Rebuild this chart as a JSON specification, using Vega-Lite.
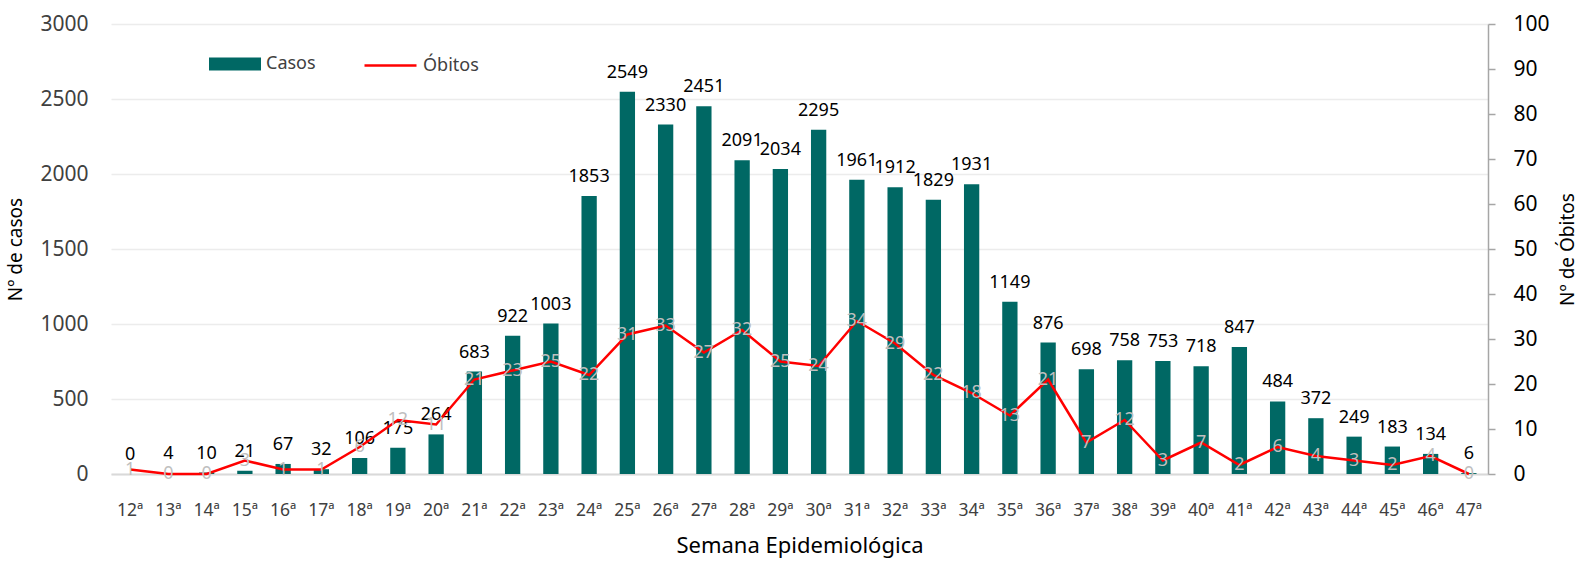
{
  "$schema": "https://vega.github.io/schema/vega-lite/v6.json",
  "autosize": {"type": "none"},
  "width": 1377,
  "height": 450,
  "padding": {"left": 111, "top": 24, "right": 96, "bottom": 87},
  "background": "white",
  "config": {
    "font": "Noto Sans",
    "view": {"stroke": null},
    "axis": {"labelFont": "Noto Sans", "titleFont": "Noto Sans", "titleFontWeight": "normal"},
    "legend": {"labelFont": "Noto Sans"}
  },
  "data": {
    "values": [
      {"semana": "12ª", "casos": 0, "obitos": 1},
      {"semana": "13ª", "casos": 4, "obitos": 0},
      {"semana": "14ª", "casos": 10, "obitos": 0},
      {"semana": "15ª", "casos": 21, "obitos": 3},
      {"semana": "16ª", "casos": 67, "obitos": 1},
      {"semana": "17ª", "casos": 32, "obitos": 1},
      {"semana": "18ª", "casos": 106, "obitos": 6},
      {"semana": "19ª", "casos": 175, "obitos": 12},
      {"semana": "20ª", "casos": 264, "obitos": 11},
      {"semana": "21ª", "casos": 683, "obitos": 21},
      {"semana": "22ª", "casos": 922, "obitos": 23},
      {"semana": "23ª", "casos": 1003, "obitos": 25},
      {"semana": "24ª", "casos": 1853, "obitos": 22},
      {"semana": "25ª", "casos": 2549, "obitos": 31},
      {"semana": "26ª", "casos": 2330, "obitos": 33},
      {"semana": "27ª", "casos": 2451, "obitos": 27},
      {"semana": "28ª", "casos": 2091, "obitos": 32},
      {"semana": "29ª", "casos": 2034, "obitos": 25},
      {"semana": "30ª", "casos": 2295, "obitos": 24},
      {"semana": "31ª", "casos": 1961, "obitos": 34},
      {"semana": "32ª", "casos": 1912, "obitos": 29},
      {"semana": "33ª", "casos": 1829, "obitos": 22},
      {"semana": "34ª", "casos": 1931, "obitos": 18},
      {"semana": "35ª", "casos": 1149, "obitos": 13},
      {"semana": "36ª", "casos": 876, "obitos": 21},
      {"semana": "37ª", "casos": 698, "obitos": 7},
      {"semana": "38ª", "casos": 758, "obitos": 12},
      {"semana": "39ª", "casos": 753, "obitos": 3},
      {"semana": "40ª", "casos": 718, "obitos": 7},
      {"semana": "41ª", "casos": 847, "obitos": 2},
      {"semana": "42ª", "casos": 484, "obitos": 6},
      {"semana": "43ª", "casos": 372, "obitos": 4},
      {"semana": "44ª", "casos": 249, "obitos": 3},
      {"semana": "45ª", "casos": 183, "obitos": 2},
      {"semana": "46ª", "casos": 134, "obitos": 4},
      {"semana": "47ª", "casos": 6, "obitos": 0}
    ]
  },
  "encoding": {
    "x": {
      "field": "semana",
      "type": "nominal",
      "sort": null,
      "scale": {"paddingInner": 0.6, "paddingOuter": 0.3},
      "axis": {
        "title": "Semana Epidemiológica",
        "titleFontSize": 22,
        "titleColor": "#000000",
        "titlePadding": 17,
        "labelAngle": 0,
        "labelFontSize": 17.5,
        "labelColor": "#404040",
        "labelPadding": 27,
        "ticks": false,
        "domainColor": "#d9d9d9",
        "domainWidth": 2,
        "grid": false
      }
    }
  },
  "layer": [
    {
      "encoding": {
        "y": {
          "field": "casos",
          "type": "quantitative",
          "scale": {"domain": [0, 3000]},
          "axis": {
            "title": "Nº de casos",
            "titleFontSize": 19,
            "titleColor": "#000000",
            "titlePadding": 14,
            "values": [0, 500, 1000, 1500, 2000, 2500, 3000],
            "format": "d",
            "labelFontSize": 21,
            "labelColor": "#404040",
            "labelPadding": 23,
            "domain": false,
            "ticks": false,
            "grid": true,
            "gridColor": "#ececec",
            "gridWidth": 1.5
          }
        }
      },
      "layer": [
        {
          "mark": {"type": "bar"},
          "encoding": {
            "color": {
              "datum": "Casos",
              "scale": {"range": ["#006864"]},
              "legend": {
                "orient": "none",
                "legendX": 98,
                "legendY": 14,
                "title": null,
                "symbolType": "M-1,-0.25H1V0.25H-1Z",
                "symbolSize": 2704,
                "symbolStrokeWidth": 0,
                "labelFontSize": 18,
                "labelColor": "#404040",
                "labelOffset": 5
              }
            }
          }
        },
        {
          "mark": {"type": "text", "baseline": "alphabetic", "dy": -14, "fontSize": 18, "color": "#000000"},
          "encoding": {"text": {"field": "casos", "type": "quantitative"}}
        }
      ]
    },
    {
      "encoding": {
        "y": {
          "field": "obitos",
          "type": "quantitative",
          "scale": {"domain": [0, 100]},
          "axis": {
            "orient": "right",
            "title": "Nº de Óbitos",
            "titleFontSize": 19,
            "titleColor": "#000000",
            "titleAngle": 270,
            "titlePadding": 28,
            "values": [0, 10, 20, 30, 40, 50, 60, 70, 80, 90, 100],
            "labelFontSize": 21,
            "labelColor": "#000000",
            "labelPadding": 18,
            "domain": true,
            "domainColor": "#a6a6a6",
            "domainWidth": 1.5,
            "ticks": true,
            "tickColor": "#a6a6a6",
            "tickSize": 7,
            "tickWidth": 1.5,
            "grid": false
          }
        }
      },
      "layer": [
        {
          "mark": {"type": "line", "strokeWidth": 2.5},
          "encoding": {
            "stroke": {
              "datum": "Óbitos",
              "scale": {"range": ["#ff0000"]},
              "legend": {
                "orient": "none",
                "legendX": 252,
                "legendY": 14,
                "title": null,
                "symbolType": "stroke",
                "symbolSize": 2704,
                "symbolStrokeWidth": 2.5,
                "labelFontSize": 18,
                "labelColor": "#404040",
                "labelOffset": 5
              }
            }
          }
        },
        {
          "mark": {"type": "text", "baseline": "middle", "fontSize": 18, "color": "#bfbfbf"},
          "encoding": {"text": {"field": "obitos", "type": "quantitative"}}
        }
      ]
    }
  ],
  "resolve": {"scale": {"y": "independent", "color": "independent"}}
}
